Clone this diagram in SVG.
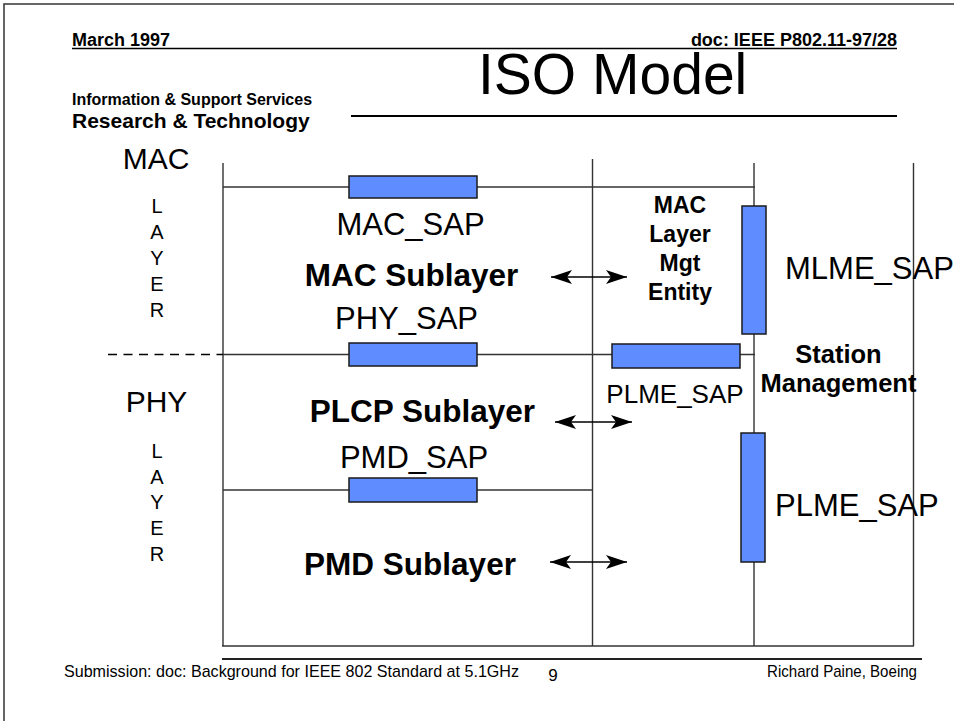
<svg xmlns="http://www.w3.org/2000/svg" width="954" height="721" viewBox="0 0 954 721">
<style>
text{font-family:"Liberation Sans",Arial,sans-serif;fill:#000}
.b{font-weight:bold}
.grid{stroke:#333;stroke-width:1.4;fill:none}
.sap{fill:#5f8cff;stroke:#1a1a1a;stroke-width:1.5}
.arr{stroke:#000;stroke-width:1.6;fill:none;marker-start:url(#ah);marker-end:url(#ah)}
.lbl{font-size:31px}
.sub{font-size:31.5px;font-weight:bold;text-anchor:middle}
.let{font-size:20px;text-anchor:middle}
.ft{font-size:17px}
</style>
<defs>
<marker id="ah" markerUnits="userSpaceOnUse" viewBox="0 -8 21 16" refX="21" refY="0" markerWidth="21" markerHeight="16" orient="auto-start-reverse">
<path d="M0,-7 L21,0 L0,7 L5,0 Z" fill="#000"/>
</marker>
</defs>
<rect width="954" height="721" fill="#fff"/>
<g id="frame">
<path d="M4,721 V4 H954" stroke="#333" stroke-width="1.5" fill="none"/>
</g>
<g id="header">
<text x="72" y="46" class="b" font-size="18">March 1997</text>
<text x="897" y="46" class="b" font-size="18" text-anchor="end">doc: IEEE P802.11-97/28</text>
<line x1="72" y1="48.5" x2="897" y2="48.5" stroke="#000" stroke-width="1.5"/>
<text x="478" y="94" font-size="57">ISO Model</text>
<line x1="351" y1="116" x2="897" y2="116" stroke="#000" stroke-width="2.2"/>
<text x="72" y="105" class="b" font-size="16">Information &amp; Support Services</text>
<text x="72" y="128" class="b" font-size="21">Research &amp; Technology</text>
</g>
<g id="connectors">
<line class="grid" x1="223" y1="163" x2="223" y2="646"/>
<line class="grid" x1="592.5" y1="159" x2="592.5" y2="646"/>
<line class="grid" x1="754" y1="163" x2="754" y2="646"/>
<line class="grid" x1="913.5" y1="163" x2="913.5" y2="646"/>
<line class="grid" x1="222" y1="646" x2="914" y2="646"/>
<line class="grid" x1="223" y1="187" x2="755" y2="187"/>
<line class="grid" x1="223" y1="354.5" x2="755" y2="354.5"/>
<line class="grid" x1="223" y1="490" x2="593" y2="490"/>
<line x1="108" y1="354.5" x2="223" y2="354.5" stroke="#000" stroke-width="1.7" stroke-dasharray="9 6.5"/>
<line class="arr" x1="551" y1="277" x2="627" y2="277"/>
<line class="arr" x1="555" y1="422" x2="632" y2="422"/>
<line class="arr" x1="550" y1="562" x2="627" y2="562"/>
</g>
<g id="mac-layer">
<text x="156" y="169" font-size="30" text-anchor="middle">MAC</text>
<text class="let" x="157" y="213">L</text>
<text class="let" x="157" y="239">A</text>
<text class="let" x="157" y="265">Y</text>
<text class="let" x="157" y="291">E</text>
<text class="let" x="157" y="317">R</text>
</g>
<g id="phy-layer">
<text x="156.5" y="412" font-size="30" text-anchor="middle">PHY</text>
<text class="let" x="157" y="458">L</text>
<text class="let" x="157" y="483.5">A</text>
<text class="let" x="157" y="509">Y</text>
<text class="let" x="157" y="535">E</text>
<text class="let" x="157" y="560.5">R</text>
</g>
<g id="mac-sap">
<rect class="sap" x="349" y="176" width="128" height="22"/>
<text class="lbl" x="410.5" y="235" text-anchor="middle">MAC_SAP</text>
</g>
<g id="mac-sublayer">
<text class="sub" x="411.5" y="286">MAC Sublayer</text>
</g>
<g id="phy-sap">
<rect class="sap" x="349" y="343" width="128" height="23"/>
<text class="lbl" x="406.5" y="329" text-anchor="middle">PHY_SAP</text>
</g>
<g id="plcp-sublayer">
<text class="sub" x="422.5" y="422">PLCP Sublayer</text>
</g>
<g id="pmd-sap">
<rect class="sap" x="349" y="478" width="128" height="24"/>
<text class="lbl" x="414" y="468" text-anchor="middle">PMD_SAP</text>
</g>
<g id="pmd-sublayer">
<text class="sub" x="410" y="575">PMD Sublayer</text>
</g>
<g id="mlme">
<text class="b" font-size="23" text-anchor="middle" x="680" y="213">MAC</text>
<text class="b" font-size="23" text-anchor="middle" x="680" y="242">Layer</text>
<text class="b" font-size="23" text-anchor="middle" x="680" y="271">Mgt</text>
<text class="b" font-size="23" text-anchor="middle" x="680" y="300">Entity</text>
</g>
<g id="mlme-sap">
<rect class="sap" x="742" y="206" width="24" height="128"/>
<text class="lbl" x="785" y="279">MLME_SAP</text>
</g>
<g id="plme-sap-1">
<rect class="sap" x="612" y="344" width="128" height="24"/>
<text x="675" y="403" font-size="26" text-anchor="middle">PLME_SAP</text>
</g>
<g id="station-management">
<text class="b" font-size="25.5" text-anchor="middle" x="838.5" y="363">Station</text>
<text class="b" font-size="25.5" text-anchor="middle" x="838.5" y="392">Management</text>
</g>
<g id="plme-sap-2">
<rect class="sap" x="741" y="433" width="24" height="129"/>
<text class="lbl" x="775" y="516">PLME_SAP</text>
</g>
<g id="footer">
<line x1="222" y1="659" x2="922" y2="659" stroke="#222" stroke-width="2"/>
<text class="ft" x="64" y="677" textLength="455" lengthAdjust="spacingAndGlyphs">Submission: doc: Background for IEEE 802 Standard at 5.1GHz</text>
<text class="ft" x="553" y="681" text-anchor="middle">9</text>
<text class="ft" x="767" y="677" textLength="150" lengthAdjust="spacingAndGlyphs">Richard Paine, Boeing</text>
</g>
</svg>
